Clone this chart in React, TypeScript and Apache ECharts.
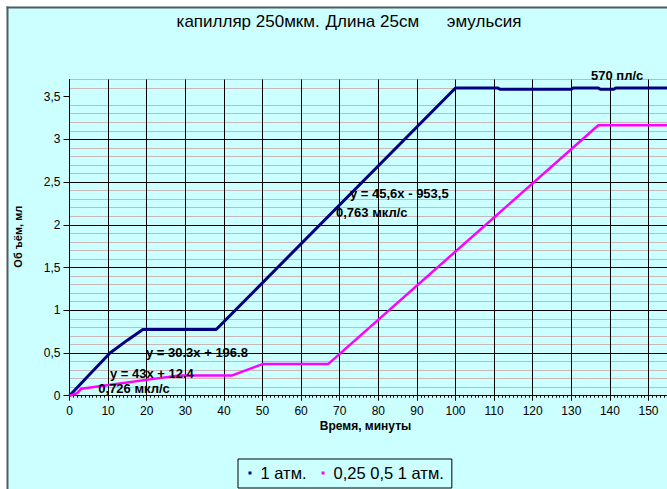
import React, { useEffect, useRef } from "react";
import * as echarts from "echarts";

// ---- texts ----
const TITLE_PARTS = ["капилляр 250мкм.", "Длина 25см", "эмульсия"];
const X_NAME = "Время, минуты";
const Y_NAME = "Об ъём, мл";
const SERIES_NAMES = ["1 атм.", "0,25 0,5 1 атм."];
const ANNOTATIONS = [
  "y = 30.3x + 196.8",
  "y = 43x + 12.4",
  "0,726 мкл/с",
  "y = 45,6x - 953,5",
  "0,763 мкл/с",
  "570 пл/с",
];

// ---- data (minutes, ml) ----
const blueTime = [0, 5, 10.5, 15, 19, 38, 100, 111, 111.5, 130, 130.5, 137, 137.5, 141, 141.5, 160];
const blueVolume = [0, 0.24, 0.5, 0.65, 0.775, 0.775, 3.6, 3.6, 3.585, 3.585, 3.6, 3.6, 3.585, 3.585, 3.6, 3.6];

const pinkTime = [0, 2, 3, 28, 42, 50, 67, 137, 160];
const pinkVolume = [0, 0.03, 0.08, 0.235, 0.235, 0.37, 0.37, 3.165, 3.165];

const yTickValues = [0, 0.5, 1, 1.5, 2, 2.5, 3, 3.5];

const FONT = 'Arial, "Liberation Sans", sans-serif';

export default function App() {
  const ref = useRef<HTMLDivElement>(null);

  useEffect(() => {
    if (!ref.current) return;
    const chart = echarts.init(ref.current, undefined, { renderer: "svg" });
    const minorColor = "#c9b6b6";
    const option: any = {
      animation: false,
      backgroundColor: "#CCFFFF",
      grid: { left: 69.5, right: 12.9, top: 79.5, bottom: 93.3, containLabel: false },
      legend: {
        left: 238,
        top: 459,
        orient: "horizontal",
        borderColor: "#000",
        borderWidth: 1,
        padding: [4, 8, 5, 10.5],
        itemWidth: 3,
        itemHeight: 3,
        itemGap: 15,
        icon: "rect",
        textStyle: { fontSize: 16.5, fontFamily: FONT, color: "#000", padding: [0, 0, 0, 4], lineHeight: 20 },
        data: SERIES_NAMES,
      },
      xAxis: {
        type: "value",
        min: 0,
        max: 160,
        interval: 10,
        axisLine: { show: true, lineStyle: { color: "#000", width: 1 } },
        axisTick: { show: true, length: 5, lineStyle: { color: "#000" } },
        minorTick: { show: true, splitNumber: 10, length: 2, lineStyle: { color: "#000" } },
        axisLabel: { color: "#000", fontSize: 12, fontFamily: FONT, margin: 9, showMaxLabel: false },
        splitLine: { show: true, lineStyle: { color: "#000", width: 1 } },
      },
      yAxis: [
        {
          type: "value",
          min: 0,
          max: 3.7,
          interval: 0.5,
          axisLine: { show: true, lineStyle: { color: "#000", width: 1 } },
          axisTick: { show: true, length: 6, customValues: yTickValues, lineStyle: { color: "#000" } },
          axisLabel: {
            color: "#000",
            fontSize: 12,
            fontFamily: FONT,
            margin: 9,
            customValues: yTickValues,
            formatter: (v: number) => String(v).replace(".", ","),
          },
          splitLine: { show: true, showMaxLine: false, lineStyle: { color: "#000", width: 1 } },
        },
        {
          type: "value",
          min: 0,
          max: 3.7,
          interval: 0.1,
          axisLine: { show: false },
          axisTick: { show: false },
          axisLabel: { show: false },
          splitLine: {
            show: true,
            lineStyle: { color: ["rgba(0,0,0,0)", minorColor, minorColor, minorColor, minorColor], width: 1 },
          },
        },
      ],
      series: [
        {
          type: "line",
          name: SERIES_NAMES[0],
          yAxisIndex: 0,
          data: blueTime.map((t, i) => [t, blueVolume[i]]),
          symbol: "none",
          showSymbol: false,
          lineStyle: { color: "#000080", width: 3 },
          itemStyle: { color: "#000080" },
          z: 3,
        },
        {
          type: "line",
          name: SERIES_NAMES[1],
          yAxisIndex: 0,
          data: pinkTime.map((t, i) => [t, pinkVolume[i]]),
          symbol: "none",
          showSymbol: false,
          lineStyle: { color: "#FF00FF", width: 2.5 },
          itemStyle: { color: "#FF00FF" },
          z: 4,
        },
      ],
      graphic: [
        { type: "rect", silent: true, shape: { x: 0, y: 0, width: 700, height: 6.5 }, style: { fill: "#fff" } },
        { type: "rect", silent: true, shape: { x: 0, y: 0, width: 6.5, height: 489 }, style: { fill: "#fff" } },
        { type: "line", silent: true, shape: { x1: 7.5, y1: 6.5, x2: 7.5, y2: 489 }, style: { stroke: "#5a5a5a", lineWidth: 2 } },
        { type: "line", silent: true, shape: { x1: 6.5, y1: 7.5, x2: 700, y2: 7.5 }, style: { stroke: "#5a5a5a", lineWidth: 2 } },
        { type: "text", x: 176.6, y: 21.5, style: { text: TITLE_PARTS[0], font: `17px ${FONT}`, fill: "#000", textAlign: "left", textVerticalAlign: "middle" } },
        { type: "text", x: 325.5, y: 21.5, style: { text: TITLE_PARTS[1], font: `17px ${FONT}`, fill: "#000", textAlign: "left", textVerticalAlign: "middle" } },
        { type: "text", x: 446.8, y: 21.5, style: { text: TITLE_PARTS[2], font: `17px ${FONT}`, fill: "#000", textAlign: "left", textVerticalAlign: "middle" } },
        { type: "text", x: 365.5, y: 425.5, style: { text: X_NAME, font: `bold 12px ${FONT}`, fill: "#000", textAlign: "center", textVerticalAlign: "middle" } },
        { type: "text", x: 17.5, y: 236.7, rotation: Math.PI / 2, style: { text: Y_NAME, font: `bold 11px ${FONT}`, fill: "#000", textAlign: "center", textVerticalAlign: "middle" } },
        { type: "text", z: 10, x: 146, y: 352.7, style: { text: ANNOTATIONS[0], font: `bold 13px ${FONT}`, fill: "#000", textAlign: "left", textVerticalAlign: "middle" } },
        { type: "text", z: 10, x: 110, y: 373.3, style: { text: ANNOTATIONS[1], font: `bold 13px ${FONT}`, fill: "#000", textAlign: "left", textVerticalAlign: "middle" } },
        { type: "text", z: 10, x: 98.3, y: 388.3, style: { text: ANNOTATIONS[2], font: `bold 13px ${FONT}`, fill: "#000", textAlign: "left", textVerticalAlign: "middle" } },
        { type: "text", z: 10, x: 350, y: 193.3, style: { text: ANNOTATIONS[3], font: `bold 13px ${FONT}`, fill: "#000", textAlign: "left", textVerticalAlign: "middle" } },
        { type: "text", z: 10, x: 336, y: 212.3, style: { text: ANNOTATIONS[4], font: `bold 13px ${FONT}`, fill: "#000", textAlign: "left", textVerticalAlign: "middle" } },
        { type: "text", z: 10, x: 591, y: 75.7, style: { text: ANNOTATIONS[5], font: `bold 13px ${FONT}`, fill: "#000", textAlign: "left", textVerticalAlign: "middle" } },
      ],
    };
    chart.setOption(option);
    return () => chart.dispose();
  }, []);

  return (
    <div style={{ position: "fixed", left: 0, top: 0, width: 667, height: 489, overflow: "hidden", background: "#fff" }}>
      <div ref={ref} style={{ width: 700, height: 489 }} />
    </div>
  );
}
